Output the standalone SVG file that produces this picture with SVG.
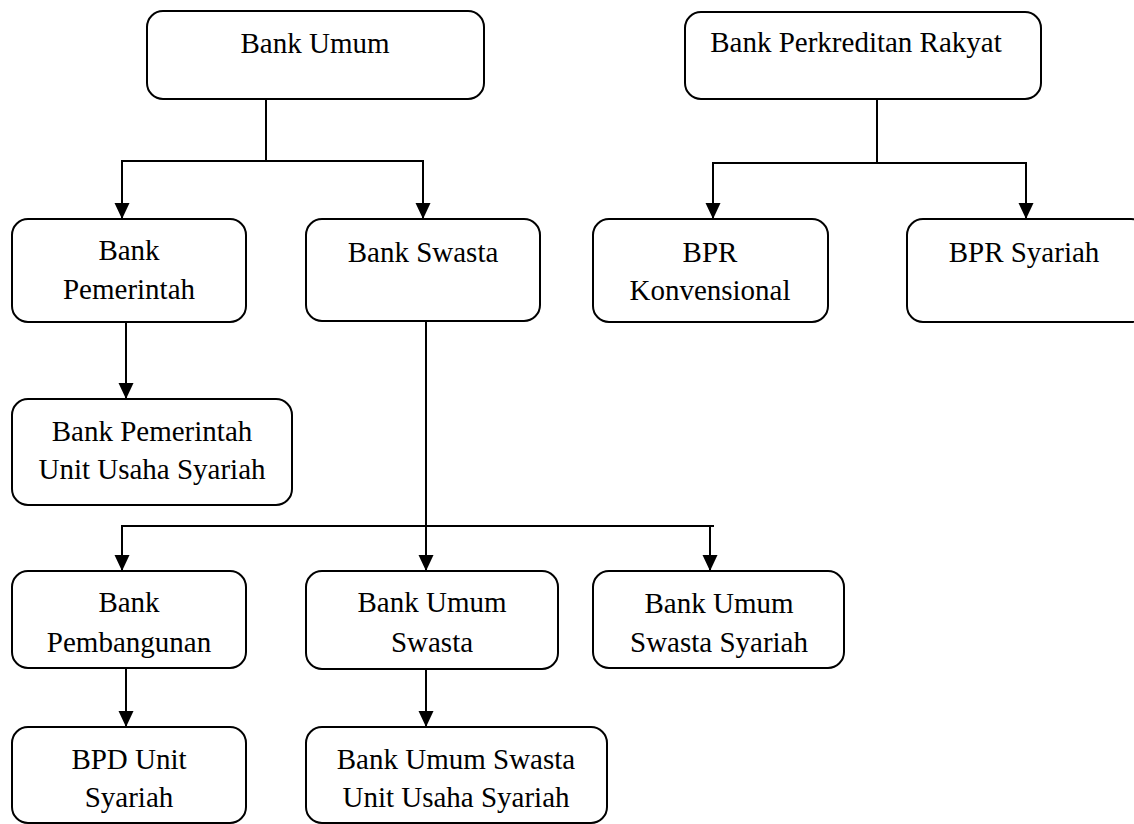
<svg xmlns="http://www.w3.org/2000/svg" width="1134" height="824" viewBox="0 0 1134 824">
<style>
.box{fill:#fff;stroke:#000;stroke-width:2}
.t{font-size:29px;fill:#000;text-anchor:middle}
.c{fill:none;stroke:#000;stroke-width:2}
</style>
<defs>
<marker id="arr" markerUnits="userSpaceOnUse" markerWidth="16" markerHeight="16" viewBox="0 0 16 16" refX="16" refY="8" orient="auto">
<path d="M0,0.5 L16,8 L0,15.5 Z" fill="#000"/>
</marker>
</defs>
<rect width="1134" height="824" fill="#fff"/>
<g id="connectors">
<path class="c" d="M266,99 V161 M121,161 H424"/>
<path class="c" d="M122,161 V219" marker-end="url(#arr)"/>
<path class="c" d="M423,161 V219" marker-end="url(#arr)"/>
<path class="c" d="M877,99 V163 M712,163 H1027"/>
<path class="c" d="M713,163 V219" marker-end="url(#arr)"/>
<path class="c" d="M1026,163 V219" marker-end="url(#arr)"/>
<path class="c" d="M126,322 V399" marker-end="url(#arr)"/>
<path class="c" d="M121,526 H714"/>
<path class="c" d="M426,321 V571" marker-end="url(#arr)"/>
<path class="c" d="M122,526 V571" marker-end="url(#arr)"/>
<path class="c" d="M710,526 V571" marker-end="url(#arr)"/>
<path class="c" d="M126,668 V727" marker-end="url(#arr)"/>
<path class="c" d="M426,669 V727" marker-end="url(#arr)"/>
</g>
<g font-family="'Liberation Serif', Tinos, 'Times New Roman', 'DejaVu Serif', serif">
<g id="bank-umum">
<rect class="box" x="147" y="11" width="337" height="88" rx="16"/>
<text class="t" x="315" y="53">Bank Umum</text>
</g>
<g id="bank-perkreditan-rakyat">
<rect class="box" x="685" y="12" width="356" height="87" rx="16"/>
<text class="t" x="856" y="52">Bank Perkreditan Rakyat</text>
</g>
<g id="bank-pemerintah">
<rect class="box" x="12" y="219" width="234" height="103" rx="16"/>
<text class="t" x="129" y="260">Bank</text>
<text class="t" x="129" y="299">Pemerintah</text>
</g>
<g id="bank-swasta">
<rect class="box" x="306" y="219" width="234" height="102" rx="16"/>
<text class="t" x="423" y="262">Bank Swasta</text>
</g>
<g id="bpr-konvensional">
<rect class="box" x="593" y="219" width="235" height="103" rx="16"/>
<text class="t" x="710" y="262">BPR</text>
<text class="t" x="710" y="300">Konvensional</text>
</g>
<g id="bpr-syariah">
<rect class="box" x="907" y="219" width="240" height="103" rx="16"/>
<text class="t" x="1024" y="262">BPR Syariah</text>
</g>
<g id="bank-pemerintah-uus">
<rect class="box" x="12" y="399" width="280" height="106" rx="16"/>
<text class="t" x="152" y="441">Bank Pemerintah</text>
<text class="t" x="152" y="479">Unit Usaha Syariah</text>
</g>
<g id="bank-pembangunan">
<rect class="box" x="12" y="571" width="234" height="97" rx="16"/>
<text class="t" x="129" y="612">Bank</text>
<text class="t" x="129" y="652">Pembangunan</text>
</g>
<g id="bank-umum-swasta">
<rect class="box" x="306" y="571" width="252" height="98" rx="16"/>
<text class="t" x="432" y="612">Bank Umum</text>
<text class="t" x="432" y="652">Swasta</text>
</g>
<g id="bank-umum-swasta-syariah">
<rect class="box" x="593" y="571" width="251" height="97" rx="16"/>
<text class="t" x="719" y="613">Bank Umum</text>
<text class="t" x="719" y="652">Swasta Syariah</text>
</g>
<g id="bpd-unit-syariah">
<rect class="box" x="12" y="727" width="234" height="96" rx="16"/>
<text class="t" x="129" y="769">BPD Unit</text>
<text class="t" x="129" y="807">Syariah</text>
</g>
<g id="bank-umum-swasta-uus">
<rect class="box" x="306" y="727" width="301" height="96" rx="16"/>
<text class="t" x="456" y="769">Bank Umum Swasta</text>
<text class="t" x="456" y="807">Unit Usaha Syariah</text>
</g>
</g>
</svg>
